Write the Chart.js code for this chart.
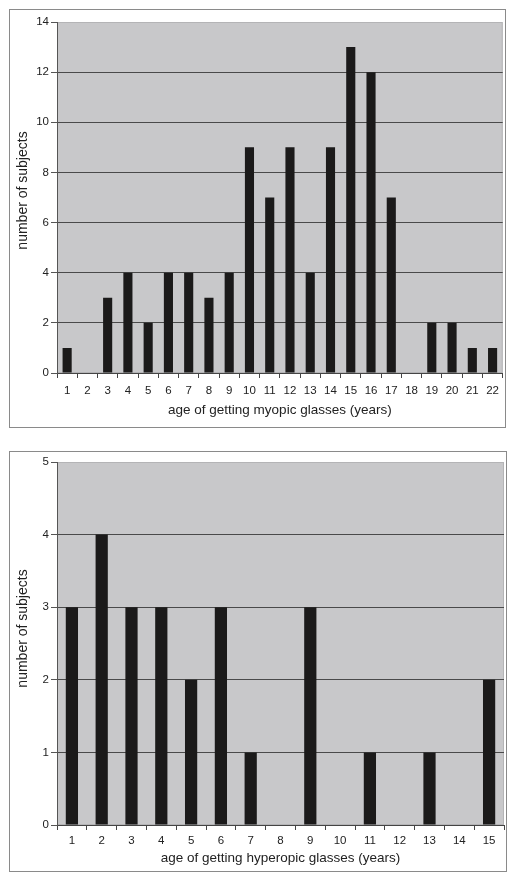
<!DOCTYPE html>
<html>
<head>
<meta charset="utf-8">
<script src="https://cdn.jsdelivr.net/npm/chart.js@4"></script>
<style>
  body { margin: 0; background: #fff; }
  .box { position: absolute; border: 1px solid #8a8a8a; background: #fff; }
  #box1 { left: 9px; top: 9px; width: 495px; height: 417px; }
  #box2 { left: 9px; top: 451px; width: 496px; height: 419px; }
  canvas { display: block; }
</style>
</head>
<body>
<div class="box" id="box1"><canvas id="myopic" width="495" height="417"></canvas></div>
<div class="box" id="box2"><canvas id="hyperopic" width="496" height="419"></canvas></div>
<script>
// myopic glasses: age vs number of subjects
const myopicAges = ["1","2","3","4","5","6","7","8","9","10","11","12","13","14","15","16","17","18","19","20","21","22"];
const myopicCounts = [1, 0, 3, 4, 2, 4, 4, 3, 4, 9, 7, 9, 4, 9, 13, 12, 7, 0, 2, 2, 1, 1];

// hyperopic glasses
const hyperopicAges = ["1","2","3","4","5","6","7","8","9","10","11","12","13","14","15"];
const hyperopicCounts = [3, 4, 3, 3, 2, 3, 1, 0, 3, 0, 1, 0, 1, 0, 2];

const FONT = "'Liberation Sans', Arial, sans-serif";

// gray plot background + rotated y title (sits a bit above the middle in the original)
const plotBg = {
    id: "plotBg",
    beforeDraw(chart) {
        const a = chart.chartArea;
        const c = chart.ctx;
        c.save();
        c.fillStyle = "#c8c8ca";
        c.fillRect(a.left, a.top, a.right - a.left, a.bottom - a.top);
        c.strokeStyle = "#b4b4b6";
        c.lineWidth = 1;
        c.strokeRect(a.left + 0.5, a.top + 0.5, a.right - a.left - 1, a.bottom - a.top - 1);
        c.restore();
    },
    afterDraw(chart, args, opts) {
        const a = chart.chartArea;
        const c = chart.ctx;
        c.save();
        c.translate(13, (a.top + a.bottom) / 2 - opts.shift);
        c.rotate(-Math.PI / 2);
        c.font = "14px " + FONT;
        c.fillStyle = "#222";
        c.textAlign = "center";
        c.textBaseline = "middle";
        c.fillText("number of subjects", 0, 0);
        c.restore();
    }
};

function makeChart(id, labels, values, opts) {
    const ctx = document.getElementById(id).getContext("2d");
    return new Chart(ctx, {
        type: "bar",
        data: {
            labels: labels,
            datasets: [{
                data: values,
                backgroundColor: "#1b1a1a",
                barPercentage: opts.barPct,
                categoryPercentage: 1
            }]
        },
        options: {
            responsive: false,
            animation: false,
            layout: { padding: { top: opts.top, right: opts.right, left: 0, bottom: 0 } },
            plugins: {
                legend: { display: false },
                tooltip: { enabled: false },
                plotBg: { shift: opts.titleShift }
            },
            scales: {
                x: {
                    grid: {
                        offset: true,
                        drawOnChartArea: false,
                        drawTicks: true,
                        tickLength: 5,
                        color: "#444"
                    },
                    border: { color: "#444" },
                    ticks: { color: "#222", font: { family: FONT, size: 11.5 }, padding: opts.tickPad, maxRotation: 0, autoSkip: false },
                    title: {
                        display: true,
                        text: opts.xTitle,
                        color: "#222",
                        font: { family: FONT, size: 13.5 },
                        padding: { top: 0, bottom: opts.titleBottom }
                    },
                    afterFit(scale) { scale.height = opts.xHeight; }
                },
                y: {
                    min: 0,
                    max: opts.yMax,
                    ticks: { stepSize: opts.step, color: "#222", font: { family: FONT, size: 11.5 }, padding: 2 },
                    grid: {
                        color: (c) => (c.tick && c.tick.value === opts.yMax) ? "rgba(0,0,0,0)" : "#4a4a4a",
                        tickColor: "#555",
                        tickLength: 6,
                        lineWidth: 1
                    },
                    border: { color: "#555" },
                    afterFit(scale) { scale.width = 47; }
                }
            }
        },
        plugins: [plotBg]
    });
}

makeChart("myopic", myopicAges, myopicCounts, {
    yMax: 14, step: 2, top: 12, right: 1, xHeight: 54, titleBottom: 9, tickPad: 6, barPct: 0.45, titleShift: 7,
    xTitle: "age of getting myopic glasses (years)"
});

makeChart("hyperopic", hyperopicAges, hyperopicCounts, {
    yMax: 5, step: 1, top: 10, right: 2, xHeight: 46, titleBottom: 5, tickPad: 4, barPct: 0.41, titleShift: 15,
    xTitle: "age of getting hyperopic glasses (years)"
});
</script>
</body>
</html>
